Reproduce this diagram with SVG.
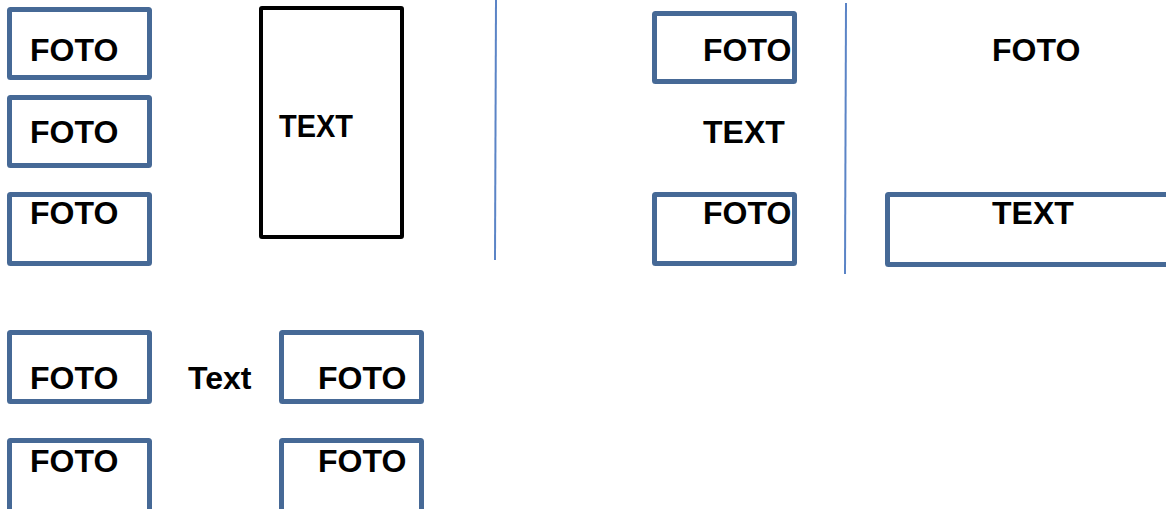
<svg xmlns="http://www.w3.org/2000/svg" width="1166" height="509" viewBox="0 0 1166 509">
<style>
.box{fill:#fff;stroke:#466996;stroke-width:5}
.tb{fill:#fff;stroke:#000;stroke-width:4}
.sep{stroke:#5b84c6;stroke-width:2}
.t{font-family:"Liberation Sans",Arial,sans-serif;font-weight:bold;font-size:32px;fill:#000}
</style>
<rect width="1166" height="509" fill="#fff"/>
<g id="connectors">
<line class="sep" x1="496" y1="0" x2="495" y2="260"/>
<line class="sep" x1="846" y1="3" x2="845" y2="274"/>
</g>
<g id="foto1"><rect class="box" x="9.5" y="9.5" width="140" height="68" rx="1"/><text class="t" x="30" y="61">FOTO</text></g>
<g id="foto2"><rect class="box" x="9.5" y="97.5" width="140" height="68" rx="1"/><text class="t" x="30" y="143">FOTO</text></g>
<g id="foto3"><rect class="box" x="9.5" y="194.5" width="140" height="69" rx="1"/><text class="t" x="30" y="224">FOTO</text></g>
<g id="text1"><rect class="tb" x="261" y="8" width="141" height="229" rx="1"/><text class="t" x="279" y="137" font-size="31" textLength="74" lengthAdjust="spacingAndGlyphs">TEXT</text></g>
<g id="foto4"><rect class="box" x="654.5" y="13.5" width="140" height="68" rx="1"/><text class="t" x="703" y="61">FOTO</text></g>
<g id="text2"><text class="t" x="703" y="143">TEXT</text></g>
<g id="foto5"><rect class="box" x="654.5" y="194.5" width="140" height="69" rx="1"/><text class="t" x="703" y="224">FOTO</text></g>
<g id="foto6"><text class="t" x="992" y="61">FOTO</text></g>
<g id="text3"><rect class="box" x="887.5" y="194.5" width="290" height="70" rx="1"/><text class="t" x="992" y="224">TEXT</text></g>
<g id="foto7"><rect class="box" x="9.5" y="332.5" width="140" height="69" rx="1"/><text class="t" x="30" y="389">FOTO</text></g>
<g id="text4"><text class="t" x="188" y="389">Text</text></g>
<g id="foto8"><rect class="box" x="281.5" y="332.5" width="140" height="69" rx="1"/><text class="t" x="318" y="389">FOTO</text></g>
<g id="foto9"><rect class="box" x="9.5" y="440.5" width="140" height="80" rx="1"/><text class="t" x="30" y="472">FOTO</text></g>
<g id="foto10"><rect class="box" x="281.5" y="440.5" width="140" height="80" rx="1"/><text class="t" x="318" y="472">FOTO</text></g>
</svg>
